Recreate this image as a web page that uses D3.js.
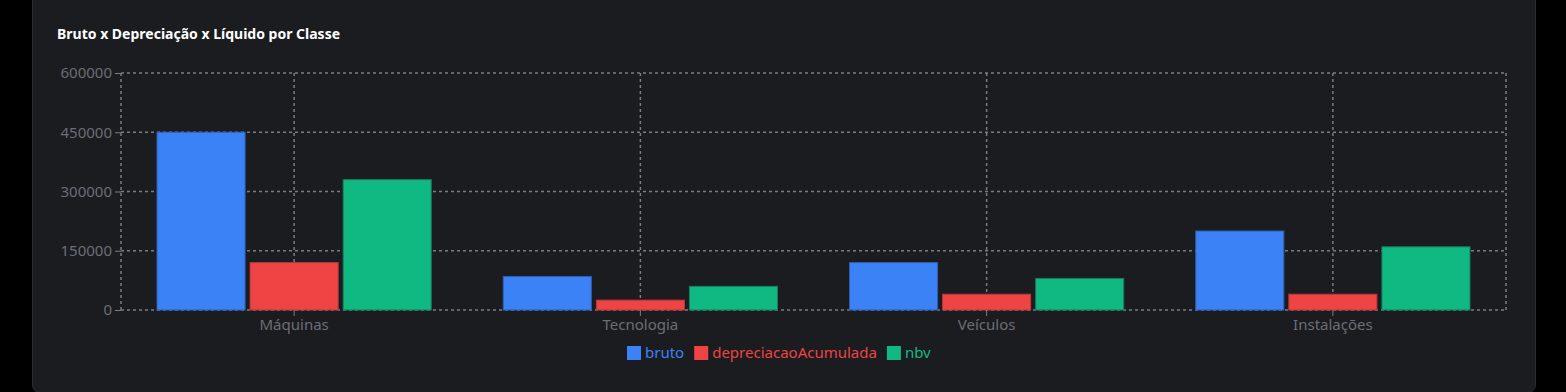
<!DOCTYPE html>
<html>
<head>
<meta charset="utf-8">
<script src="https://cdn.jsdelivr.net/npm/d3@7"></script>
<style>
    html, body { margin: 0; padding: 0; background: #000; }
    body { width: 1566px; height: 392px; overflow: hidden; font-family: "Noto Sans", "Open Sans", sans-serif; }
    #card {
        position: absolute; left: 32px; top: -10px; width: 1502px; height: 401px;
        background: #1b1c20; border: 1px solid #2a2c31; border-radius: 8px;
    }
    #chart { position: absolute; left: 0; top: 0; }
</style>
</head>
<body>
<div id="card"></div>
<div id="chart"></div>
<script>
// data
let categories = ["Máquinas", "Tecnologia", "Veículos", "Instalações"];
let seriesKeys = ["bruto", "depreciacaoAcumulada", "nbv"];
let bruto = [450000, 85000, 120000, 200000];
let depreciacaoAcumulada = [120000, 25000, 40000, 40000];
let nbv = [330000, 60000, 80000, 160000];
let yTicks = [0, 150000, 300000, 450000, 600000];

let colors = {bruto: "#3b82f6", depreciacaoAcumulada: "#ef4444", nbv: "#10b981"};
let strokes = {bruto: "#2f5fb0", depreciacaoAcumulada: "#b53a3a", nbv: "#1a7a5e"};

let values = {bruto: bruto, depreciacaoAcumulada: depreciacaoAcumulada, nbv: nbv};
let rows = categories.map((c, i) => ({
    cat: c,
    vals: seriesKeys.map(k => ({key: k, value: values[k][i]}))
}));

let W = 1566, H = 392;
let margin = {top: 73, right: 60, bottom: 82, left: 121};
let width = W - margin.left - margin.right;
let height = H - margin.top - margin.bottom;
let font = '"Noto Sans", "Open Sans", sans-serif';

let svg = d3.select("#chart").append("svg")
    .attr("width", W)
    .attr("height", H);

// title
svg.append("text")
    .attr("x", 57)
    .attr("y", 39)
    .attr("fill", "#ffffff")
    .attr("font-family", font)
    .attr("font-size", 14)
    .attr("font-weight", 700)
    .text("Bruto x Depreciação x Líquido por Classe");

let g = svg.append("g")
    .attr("transform", `translate(${margin.left}, ${margin.top})`);

let x0 = d3.scaleBand()
    .domain(categories)
    .range([0, width]);

let y = d3.scaleLinear()
    .domain([0, 600000])
    .range([height, 0]);

// bars inside a band: ~10% padding each side, small gap between bars
let pad = x0.bandwidth() * 0.104;
let gap = 5;
let barW = (x0.bandwidth() - 2 * pad - gap * (seriesKeys.length - 1)) / seriesKeys.length;

let gridColor = "#7a7c82";

// horizontal grid
g.append("g").selectAll("line")
    .data(yTicks)
    .enter().append("line")
    .attr("x1", 0).attr("x2", width)
    .attr("y1", d => y(d)).attr("y2", d => y(d))
    .attr("stroke", gridColor)
    .attr("stroke-width", 1.5)
    .attr("stroke-dasharray", "3 3");

// vertical grid (edges + category centers)
let vLines = [0].concat(categories.map(c => x0(c) + x0.bandwidth() / 2), [width]);
g.append("g").selectAll("line")
    .data(vLines)
    .enter().append("line")
    .attr("x1", d => d).attr("x2", d => d)
    .attr("y1", 0).attr("y2", height)
    .attr("stroke", gridColor)
    .attr("stroke-width", 1.5)
    .attr("stroke-dasharray", "3 3");

// bars
let groups = g.selectAll(".cat")
    .data(rows)
    .enter().append("g")
    .attr("class", "cat")
    .attr("transform", d => `translate(${x0(d.cat)}, 0)`);

groups.selectAll("rect")
    .data(d => d.vals)
    .enter().append("rect")
    .attr("x", (d, i) => pad + i * (barW + gap))
    .attr("y", d => y(d.value))
    .attr("width", barW)
    .attr("height", d => height - y(d.value))
    .attr("fill", d => colors[d.key])
    .attr("stroke", d => strokes[d.key])
    .attr("stroke-width", 1);

// y axis
let yAxis = g.append("g")
    .call(d3.axisLeft(y).tickValues(yTicks).tickSize(6).tickPadding(3).tickFormat(d3.format("d")));
yAxis.select(".domain").remove();
yAxis.selectAll("line").attr("stroke", gridColor);
yAxis.selectAll("text").attr("fill", "#6b6e75").attr("font-size", 15).attr("font-family", font);

// x axis
let xAxis = g.append("g")
    .attr("transform", `translate(0, ${height})`)
    .call(d3.axisBottom(x0).tickSize(6).tickPadding(3));
xAxis.select(".domain").remove();
xAxis.selectAll("line").attr("stroke", gridColor);
xAxis.selectAll("text").attr("fill", "#6b6e75").attr("font-size", 15).attr("font-family", font);

// legend
let legend = svg.append("g").attr("transform", `translate(0, 353)`);
let lx = 627;
seriesKeys.forEach(k => {
    let item = legend.append("g").attr("transform", `translate(${lx}, 0)`);
    item.append("rect")
        .attr("x", 0).attr("y", -7)
        .attr("width", 14).attr("height", 14)
        .attr("fill", colors[k]);
    let t = item.append("text")
        .attr("x", 18)
        .attr("dy", "0.35em")
        .attr("fill", colors[k])
        .attr("font-family", font)
        .attr("font-size", 15)
        .text(k);
    lx += 18 + t.node().getComputedTextLength() + 10;
});
</script>
</body>
</html>
